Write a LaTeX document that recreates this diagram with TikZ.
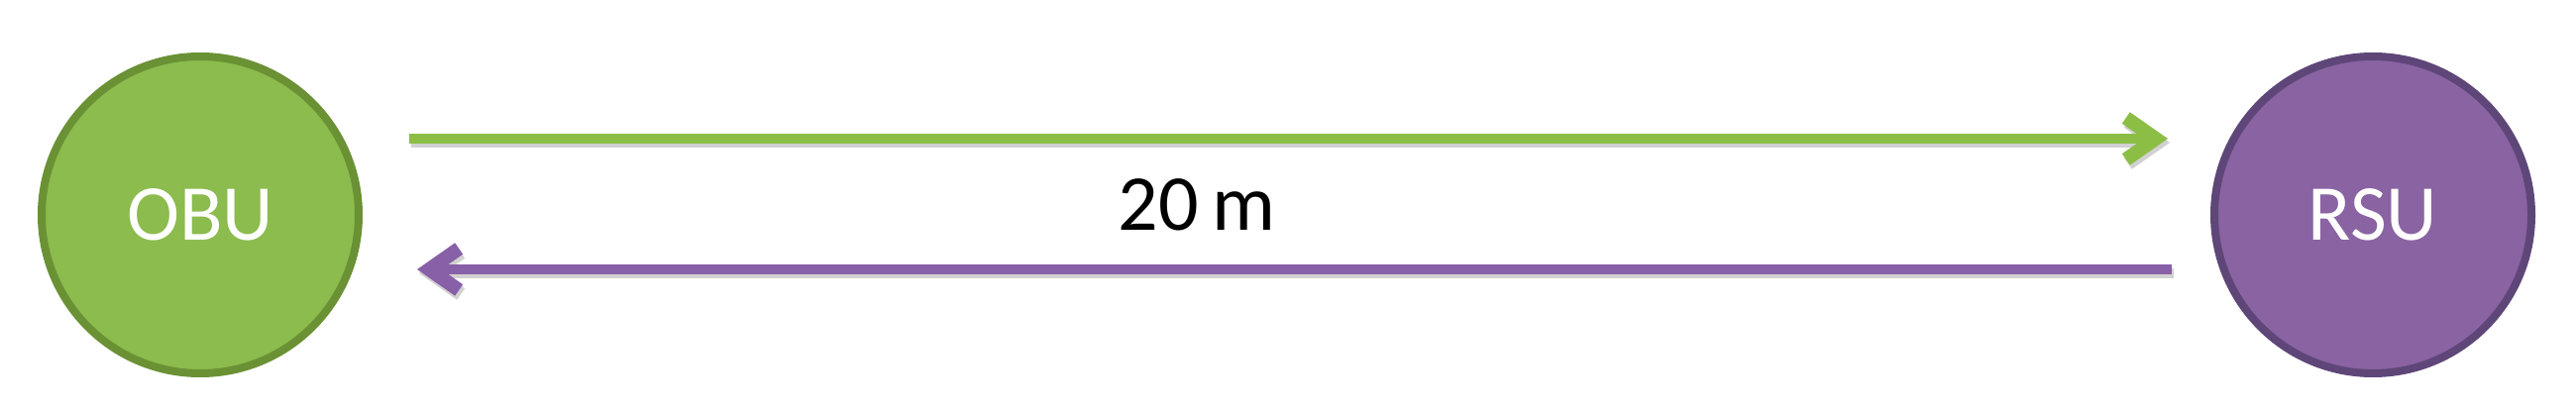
\documentclass[tikz,border=0pt]{standalone}
\usepackage{fontspec}
\setmainfont{Carlito}
\usetikzlibrary{arrows.meta}
\definecolor{obufill}{HTML}{8CBB4E}
\definecolor{obuline}{HTML}{6A9134}
\definecolor{rsufill}{HTML}{8A63A3}
\definecolor{rsuline}{HTML}{5E4778}
\definecolor{garrow}{HTML}{8CBE45}
\definecolor{parrow}{HTML}{8860A8}
\begin{document}
\begin{tikzpicture}[x=1pt,y=-1pt,
  unit/.style={circle,minimum size=320pt,inner sep=0pt,line width=8pt,text=white,font=\fontsize{80}{92}\selectfont},
  link/.style={line width=10pt,-{Straight Barb[length=30pt,width=42pt,line width=14pt]}},
  shadowlink/.style={link,draw=black,opacity=0.18,transform canvas={shift={(2pt,-4pt)}}}]
\useasboundingbox (0,0) rectangle (2600,414);
\node[unit,fill=obufill,draw=obuline] (obu) at (202,217) {OBU};
\node[unit,fill=rsufill,draw=rsuline] (rsu) at (2395,217) {RSU};
\coordinate (g1) at (413,140);
\coordinate (g2) at (2188,140);
\coordinate (p1) at (2192,272);
\coordinate (p2) at (421,272);
\draw[shadowlink] (g1) -- (g2);
\draw[shadowlink] (p1) -- (p2);
\draw[link,draw=garrow] (g1) -- (g2);
\draw[link,draw=parrow] (p1) -- (p2);
\node[font=\fontsize{80}{96}\selectfont,anchor=base] (dist) at (1208,233) {20\,m};
\end{tikzpicture}
\end{document}
